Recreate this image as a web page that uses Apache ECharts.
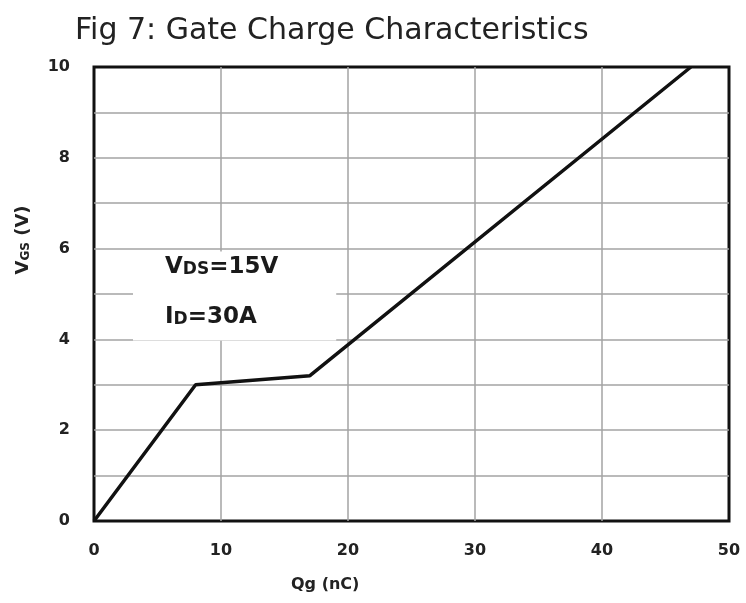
<!DOCTYPE html>
<html>
<head>
<meta charset="utf-8">
<script src="https://cdn.jsdelivr.net/npm/echarts@6/dist/echarts.min.js"></script>
<style>
  html, body { margin: 0; padding: 0; background: #fff; }
  #chart { width: 746px; height: 603px; }
</style>
</head>
<body>
<div id="chart"></div>
<script>
  // gate charge curve
  var qg = [0, 8, 17, 47];
  var vgs = [0, 3, 3.2, 10];
  var xTicks = [0, 10, 20, 30, 40, 50];
  var yTicks = [0, 2, 4, 6, 8, 10];

  var font = 'DejaVu Sans';
  var myChart = echarts.init(document.getElementById('chart'));
  var option = {
    animation: false,
    backgroundColor: '#fff',
    title: [
      {
        text: 'Fig 7: Gate Charge Characteristics',
        left: 70, top: 11,
        textStyle: { fontFamily: font, fontSize: 30, fontWeight: 'normal', color: '#222' }
      },
      {
        text: 'Qg (nC)',
        left: 286, top: 572,
        textStyle: { fontFamily: font, fontSize: 16, fontWeight: 'bold', color: '#222' }
      },
      {
        // condition box, white background covers the grid
        text: '{v|V}{s|DS}{v|=15V}\n{v|I}{s|D}{v|=30A}',
        left: 133, top: 238,
        padding: [4, 58, 12, 32],
        backgroundColor: '#fff',
        textStyle: {
          rich: {
            v: { fontFamily: font, fontSize: 23, fontWeight: 'bold', color: '#1a1a1a', lineHeight: 50 },
            s: { fontFamily: font, fontSize: 17, fontWeight: 'bold', color: '#1a1a1a', lineHeight: 50, padding: [5, 0, 0, 0] }
          }
        }
      }
    ],
    graphic: [
      {
        type: 'text',
        x: 23, y: 240,
        rotation: Math.PI / 2,
        z: 10,
        style: {
          text: '{v|V}{s|GS}{v| (V)}',
          align: 'center', verticalAlign: 'middle',
          rich: {
            v: { fontFamily: font, fontSize: 18, fontWeight: 'bold', fill: '#222' },
            s: { fontFamily: font, fontSize: 12, fontWeight: 'bold', fill: '#222', padding: [5, 0, 0, 0] }
          }
        }
      }
    ],
    grid: {
      left: 94, right: 17, top: 67, bottom: 82,
      show: true, borderColor: '#111', borderWidth: 3
    },
    xAxis: {
      type: 'value',
      min: xTicks[0], max: xTicks[xTicks.length - 1], interval: 10,
      axisLine: { show: false },
      axisTick: { show: false },
      axisLabel: { margin: 22, fontFamily: font, fontSize: 16, fontWeight: 'bold', color: '#222' },
      splitLine: { showMinLine: false, showMaxLine: false, lineStyle: { color: '#a3a3a3', width: 1.5 } }
    },
    yAxis: {
      type: 'value',
      min: yTicks[0], max: yTicks[yTicks.length - 1], interval: 1,
      axisLine: { show: false },
      axisTick: { show: false },
      axisLabel: {
        margin: 24, fontFamily: font, fontSize: 16, fontWeight: 'bold', color: '#222',
        formatter: function (v) { return yTicks.indexOf(v) >= 0 ? v : ''; }
      },
      splitLine: { showMinLine: false, showMaxLine: false, lineStyle: { color: '#a3a3a3', width: 1.5 } }
    },
    series: [
      {
        type: 'line',
        data: qg.map(function (q, i) { return [q, vgs[i]]; }),
        symbol: 'none',
        lineStyle: { color: '#111', width: 3.5 },
        z: 3
      }
    ]
  };
  myChart.setOption(option);
</script>
</body>
</html>
